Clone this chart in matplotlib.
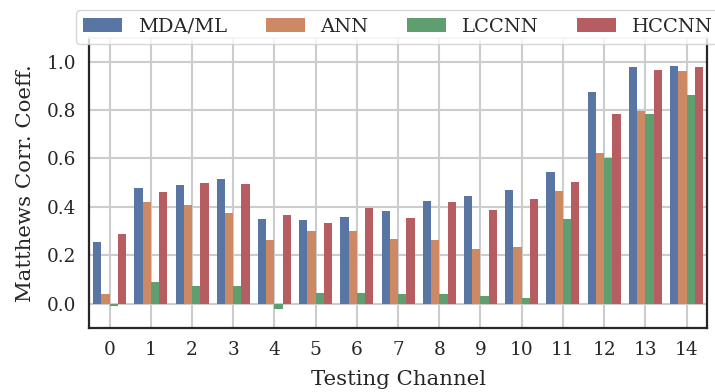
import numpy as np
import pandas as pd
import seaborn as sns
import matplotlib
matplotlib.use("Agg")
import matplotlib.pyplot as plt

channels = list(range(15))
methods = ["MDA/ML", "ANN", "LCCNN", "HCCNN"]

mda_ml = [0.254, 0.477, 0.490, 0.515, 0.349, 0.345, 0.357, 0.382, 0.423, 0.444,
          0.469, 0.544, 0.875, 0.978, 0.982]
ann = [0.039, 0.419, 0.407, 0.374, 0.262, 0.299, 0.299, 0.266, 0.262, 0.225,
       0.233, 0.465, 0.622, 0.796, 0.962]
lccnn = [-0.010, 0.088, 0.072, 0.072, -0.022, 0.043, 0.043, 0.039, 0.039, 0.030,
         0.022, 0.349, 0.601, 0.784, 0.862]
hccnn = [0.287, 0.461, 0.498, 0.494, 0.366, 0.332, 0.395, 0.353, 0.419, 0.386,
         0.432, 0.502, 0.784, 0.966, 0.978]

df = pd.DataFrame({
    "channel": channels * 4,
    "method": [m for m in methods for _ in channels],
    "mcc": mda_ml + ann + lccnn + hccnn,
})

sns.set_theme(style="whitegrid", context="notebook", font="serif",
              rc={"font.size": 13, "axes.labelsize": 15.3, "xtick.labelsize": 13.3,
                  "ytick.labelsize": 13.3, "legend.fontsize": 14,
                  "grid.linewidth": 1.5})
plt.rcParams["font.family"] = ["DejaVu Serif"]

fig = plt.figure(figsize=(7.15, 3.92), dpi=100)
ax = fig.add_axes([0.1245, 0.164, 0.8645, 0.740])

sns.barplot(data=df, x="channel", y="mcc", hue="method", hue_order=methods,
            palette="deep", linewidth=0, ax=ax)

ax.set_ylim(-0.1, 1.1)
ax.set_xlim(-0.5, 14.5)
ax.set_yticks([0.0, 0.2, 0.4, 0.6, 0.8, 1.0])
ax.set_xlabel("Testing Channel", labelpad=8)
ax.set_ylabel("Matthews Corr. Coeff.", labelpad=8)
ax.xaxis.grid(True)

# left/bottom/right frame drawn dark, top edge keeps the light grid colour
for side in ["left", "bottom", "right"]:
    ax.spines[side].set_color("0.15")
    ax.spines[side].set_linewidth(1.6)

ax.legend(loc="upper center", bbox_to_anchor=(0.5, 1.095), ncol=4,
          borderaxespad=0)

fig.savefig("out.png", dpi=100)
